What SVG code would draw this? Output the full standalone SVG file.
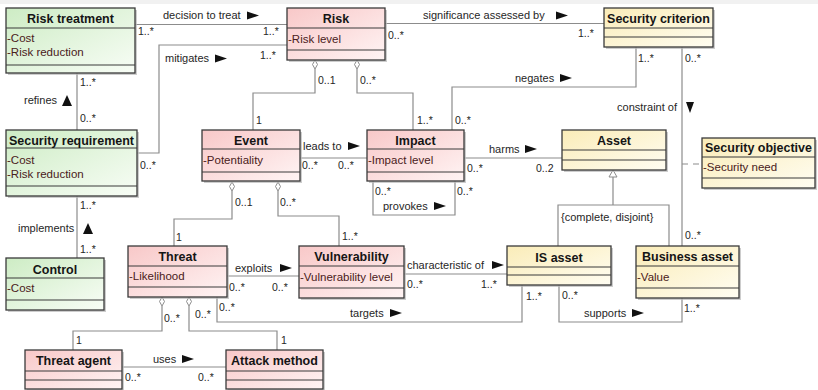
<svg xmlns="http://www.w3.org/2000/svg" width="818" height="390" viewBox="0 0 818 390">
<defs>
<linearGradient id="gG" x1="0" y1="0" x2="1" y2="1"><stop offset="0" stop-color="#cdecc4"/><stop offset="1" stop-color="#f8fdf6"/></linearGradient>
<linearGradient id="gP" x1="0" y1="0" x2="1" y2="1"><stop offset="0" stop-color="#f8c8c8"/><stop offset="1" stop-color="#fff4f4"/></linearGradient>
<linearGradient id="gY" x1="0" y1="0" x2="1" y2="1"><stop offset="0" stop-color="#faecb8"/><stop offset="1" stop-color="#fffdf2"/></linearGradient>
<style>
.sh{fill:#b8b8b8;opacity:.7}
.bx{stroke:#3a3a3a;stroke-width:1.3}
.sep{stroke:#3a3a3a;stroke-width:1.2}
.g{fill:url(#gG)}.p{fill:url(#gP)}.y{fill:url(#gY)}
.t{font-family:"Liberation Sans",Arial,sans-serif;font-weight:bold;font-size:12.5px;text-anchor:middle;fill:#151515}
.a{font-family:"Liberation Sans",Arial,sans-serif;font-size:11.5px;fill:#4a2020}
.l{font-family:"Liberation Sans",Arial,sans-serif;font-size:11px;fill:#262626}
.m{font-family:"Liberation Sans",Arial,sans-serif;font-size:10.5px;fill:#262626}
.c{fill:none;stroke:#8c8c8c;stroke-width:1.2}
.d{fill:#fff;stroke:#8c8c8c;stroke-width:1}
.ar{fill:#111}
</style>
</defs>
<rect x="0" y="0" width="818" height="390" fill="#fff"/>
<rect x="0" y="0" width="818" height="4" fill="#f1f1f1"/>

<g id="connectors">
<!-- decision to treat -->
<path class="c" d="M135,24.5H287"/>
<!-- mitigates -->
<path class="c" d="M137,153H159V45H287"/>
<!-- significance -->
<path class="c" d="M385,23.5H604"/>
<!-- Risk-Event -->
<path class="c" d="M315,69V93H253V130"/>
<polygon class="d" points="315,60 317.5,64.5 315,69 312.5,64.5"/>
<!-- Risk-Impact -->
<path class="c" d="M357,69V93H413V130"/>
<polygon class="d" points="357,60 359.5,64.5 357,69 354.5,64.5"/>
<!-- negates -->
<path class="c" d="M636,47V87H452V130"/>
<!-- constraint of -->
<path class="c" d="M682,47V246"/>
<path class="c" d="M682,164H702" stroke-dasharray="6,5"/>
<!-- refines -->
<path class="c" d="M77,73V130"/>
<!-- implements -->
<path class="c" d="M77,196V258"/>
<!-- leads to -->
<path class="c" d="M300,158H367"/>
<!-- harms -->
<path class="c" d="M464,158H562"/>
<!-- provokes -->
<path class="c" d="M373,181V215H455V181"/>
<!-- generalization -->
<path class="c" d="M558,246V205H669V246M613,205V177"/>
<polygon points="613,170 617,177 609,177" fill="#fff" stroke="#8c8c8c" stroke-width="1"/>
<!-- Event-Threat -->
<path class="c" d="M232,191V219H174V246"/>
<polygon class="d" points="232,182 234.5,186.5 232,191 229.5,186.5"/>
<!-- Event-Vulnerability -->
<path class="c" d="M278,191V216H339V246"/>
<polygon class="d" points="278,182 280.5,186.5 278,191 275.5,186.5"/>
<!-- exploits -->
<path class="c" d="M227,276H299"/>
<!-- characteristic of -->
<path class="c" d="M404,274H507"/>
<!-- targets -->
<path class="c" d="M217,297V322H522V285"/>
<!-- supports -->
<path class="c" d="M559,285V322H682V298"/>
<!-- Threat-Threat agent -->
<path class="c" d="M162,306V331H73V350"/>
<polygon class="d" points="162,297 164.5,301.5 162,306 159.5,301.5"/>
<!-- Threat-Attack method -->
<path class="c" d="M189,306V331H277V350"/>
<polygon class="d" points="189,297 191.5,301.5 189,306 186.5,301.5"/>
<!-- uses -->
<path class="c" d="M122,367H226"/>

<!-- labels -->
<text class="l" x="163" y="19">decision to treat</text><polygon class="ar" points="247,11.5 259,15.5 247,19.5"/>
<text class="m" x="138" y="35">1..*</text><text class="m" x="263" y="35">1..*</text>
<text class="l" x="165" y="62">mitigates</text><polygon class="ar" points="215,54.5 227,58.5 215,62.5"/>
<text class="m" x="260" y="58.5">1..*</text><text class="m" x="140" y="169">0..*</text>
<text class="l" x="423" y="19">significance assessed by</text><polygon class="ar" points="556,11.5 568,15.5 556,19.5"/>
<text class="m" x="388" y="39">0..*</text><text class="m" x="578" y="37">1..*</text>
<text class="m" x="318" y="84">0..1</text><text class="m" x="256" y="124">1</text>
<text class="m" x="360" y="84">0..*</text><text class="m" x="417" y="124">1..*</text>
<text class="l" x="515" y="82">negates</text><polygon class="ar" points="560,74 572,78 560,82"/>
<text class="m" x="638" y="62">1..*</text><text class="m" x="455" y="124">0..*</text>
<text class="l" x="677" y="111" text-anchor="end">constraint of</text><polygon class="ar" points="686,102 694,102 690,113"/>
<text class="m" x="685" y="62">0..*</text><text class="m" x="685" y="239">0..*</text>
<text class="l" x="24" y="104">refines</text><polygon class="ar" points="67,95 72,106 62,106"/>
<text class="m" x="80" y="86">1..*</text><text class="m" x="80" y="122">0..*</text>
<text class="l" x="18" y="232">implements</text><polygon class="ar" points="88,223 93,234 83,234"/>
<text class="m" x="80" y="209">1..*</text><text class="m" x="80" y="253">1..*</text>
<text class="l" x="303" y="150">leads to</text><polygon class="ar" points="348,142 360,146 348,150"/>
<text class="m" x="302" y="169">0..*</text><text class="m" x="338" y="169">0..*</text>
<text class="l" x="489" y="153">harms</text><polygon class="ar" points="525,145 537,149 525,153"/>
<text class="m" x="467" y="172">0..*</text><text class="m" x="536" y="172">0..2</text>
<text class="m" x="375" y="195">0..*</text><text class="m" x="457" y="195">0..*</text>
<text class="l" x="383" y="210">provokes</text><polygon class="ar" points="434,202 446,206 434,210"/>
<text class="l" x="561" y="221">{complete, disjoint}</text>
<text class="m" x="235" y="206">0..1</text><text class="m" x="176" y="241">1</text>
<text class="m" x="280" y="206">0..*</text><text class="m" x="342" y="240">1..*</text>
<text class="l" x="235" y="272">exploits</text><polygon class="ar" points="280,264 292,268 280,272"/>
<text class="m" x="229" y="291">0..*</text><text class="m" x="272" y="291">0..*</text>
<text class="l" x="407" y="269">characteristic of</text><polygon class="ar" points="492,261 504,265 492,269"/>
<text class="m" x="407" y="288">0..*</text><text class="m" x="481" y="288">1..*</text>
<text class="m" x="219" y="311">0..*</text>
<text class="l" x="350" y="317">targets</text><polygon class="ar" points="390,309 402,313 390,317"/>
<text class="m" x="526" y="300">1..*</text>
<text class="m" x="562" y="299">0..*</text><text class="m" x="684" y="312">1..*</text>
<text class="l" x="584" y="317">supports</text><polygon class="ar" points="632,309 644,313 632,317"/>
<text class="m" x="164" y="322">0..*</text><text class="m" x="76" y="344">1</text>
<text class="m" x="195" y="318">0..*</text><text class="m" x="281" y="344">1</text>
<text class="l" x="153" y="363">uses</text><polygon class="ar" points="182,355 194,359 182,363"/>
<text class="m" x="125" y="381">0..*</text><text class="m" x="198" y="381">0..*</text>
</g>

<g id="risk-treatment">
<rect class="sh" x="8" y="10" width="129" height="65"/>
<rect class="bx g" x="6" y="8" width="129" height="65"/>
<path class="sep" d="M6,28H135M6,65H135"/>
<text class="t" x="70.5" y="22.5">Risk treatment</text>
<text class="a" x="7" y="42">-Cost</text>
<text class="a" x="7" y="56">-Risk reduction</text>
</g>

<g id="risk">
<rect class="sh" x="289" y="10" width="98" height="52"/>
<rect class="bx p" x="287" y="8" width="98" height="52"/>
<path class="sep" d="M287,28H385M287,50H385"/>
<text class="t" x="336" y="22.5">Risk</text>
<text class="a" x="288" y="42.5">-Risk level</text>
</g>

<g id="security-criterion">
<rect class="sh" x="606" y="10" width="109" height="39"/>
<rect class="bx y" x="604" y="8" width="109" height="39"/>
<path class="sep" d="M604,28H713M604,37H713"/>
<text class="t" x="658.5" y="22.5">Security criterion</text>
</g>

<g id="security-requirement">
<rect class="sh" x="8" y="132" width="131" height="66"/>
<rect class="bx g" x="6" y="130" width="131" height="66"/>
<path class="sep" d="M6,148H137M6,186H137"/>
<text class="t" x="71.5" y="144.5">Security requirement</text>
<text class="a" x="7" y="164">-Cost</text>
<text class="a" x="7" y="178">-Risk reduction</text>
</g>

<g id="event">
<rect class="sh" x="204" y="132" width="98" height="51"/>
<rect class="bx p" x="202" y="130" width="98" height="51"/>
<path class="sep" d="M202,149H300M202,172H300"/>
<text class="t" x="251" y="144.5">Event</text>
<text class="a" x="203" y="164">-Potentiality</text>
</g>

<g id="impact">
<rect class="sh" x="369" y="132" width="97" height="51"/>
<rect class="bx p" x="367" y="130" width="97" height="51"/>
<path class="sep" d="M367,149H464M367,172H464"/>
<text class="t" x="415.5" y="144.5">Impact</text>
<text class="a" x="368" y="164">-Impact level</text>
</g>

<g id="asset">
<rect class="sh" x="564" y="132" width="104" height="40"/>
<rect class="bx y" x="562" y="130" width="104" height="40"/>
<path class="sep" d="M562,150H666M562,160H666"/>
<text class="t" x="614" y="144.5">Asset</text>
</g>

<g id="security-objective">
<rect class="sh" x="704" y="140" width="113" height="50"/>
<rect class="bx y" x="702" y="138" width="113" height="50"/>
<path class="sep" d="M702,157H815M702,178H815"/>
<text class="t" x="758.5" y="152">Security objective</text>
<text class="a" x="703" y="171">-Security need</text>
</g>

<g id="control">
<rect class="sh" x="8" y="260" width="98" height="52"/>
<rect class="bx g" x="6" y="258" width="98" height="52"/>
<path class="sep" d="M6,278H104M6,300H104"/>
<text class="t" x="55" y="273.5">Control</text>
<text class="a" x="7" y="292">-Cost</text>
</g>

<g id="threat">
<rect class="sh" x="130" y="248" width="99" height="51"/>
<rect class="bx p" x="128" y="246" width="99" height="51"/>
<path class="sep" d="M128,266H227M128,287H227"/>
<text class="t" x="177.5" y="261">Threat</text>
<text class="a" x="129" y="280">-Likelihood</text>
</g>

<g id="vulnerability">
<rect class="sh" x="301" y="248" width="105" height="52"/>
<rect class="bx p" x="299" y="246" width="105" height="52"/>
<path class="sep" d="M299,266H404M299,288H404"/>
<text class="t" x="351.5" y="261">Vulnerability</text>
<text class="a" x="300" y="280.5">-Vulnerability level</text>
</g>

<g id="is-asset">
<rect class="sh" x="509" y="248" width="104" height="39"/>
<rect class="bx y" x="507" y="246" width="104" height="39"/>
<path class="sep" d="M507,267H611M507,275H611"/>
<text class="t" x="559" y="261.5">IS asset</text>
</g>

<g id="business-asset">
<rect class="sh" x="638" y="248" width="103" height="52"/>
<rect class="bx y" x="636" y="246" width="103" height="52"/>
<path class="sep" d="M636,266H739M636,288H739"/>
<text class="t" x="687.5" y="261">Business asset</text>
<text class="a" x="637" y="280.5">-Value</text>
</g>

<g id="threat-agent">
<rect class="sh" x="27" y="352" width="97" height="39"/>
<rect class="bx p" x="25" y="350" width="97" height="39"/>
<path class="sep" d="M25,371H122M25,380H122"/>
<text class="t" x="73.5" y="364.5">Threat agent</text>
</g>

<g id="attack-method">
<rect class="sh" x="228" y="352" width="97" height="39"/>
<rect class="bx p" x="226" y="350" width="97" height="39"/>
<path class="sep" d="M226,371H323M226,380H323"/>
<text class="t" x="274.5" y="364.5">Attack method</text>
</g>
</svg>
